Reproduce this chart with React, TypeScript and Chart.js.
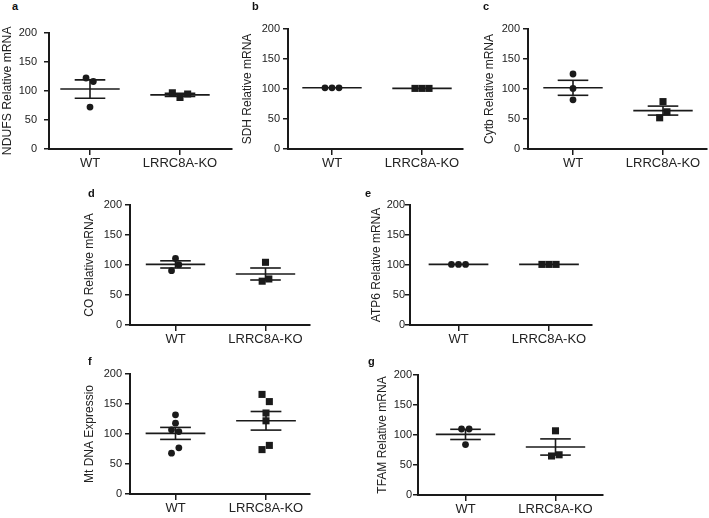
import React, { useEffect, useRef } from 'react';
import { Chart, registerables } from 'chart.js';

Chart.register(...registerables);

// ---------- data ----------
const categories = ['WT', 'LRRC8A-KO'];
const yTicks = [0, 50, 100, 150, 200];
const panelLetters = ['a', 'b', 'c', 'd', 'e', 'f', 'g'];
const yTitles = [
  'NDUFS Relative mRNA',
  'SDH Relative mRNA',
  'Cytb Relative mRNA',
  'CO Relative mRNA',
  'ATP6 Relative mRNA',
  'Mt DNA Expressio',
  'TFAM Relative mRNA',
];

const wtValues = [
  [122, 116, 72],
  [102, 102, 102],
  [125, 101, 82],
  [111, 100.5, 90.5],
  [101, 101, 101],
  [132, 118, 107, 104, 77, 68],
  [110, 110, 84],
];
const wtJitter = [
  [-0.044, 0.037, 0],
  [-0.078, 0, 0.078],
  [0, 0, 0],
  [0, 0.037, -0.044],
  [-0.078, 0, 0.078],
  [0, 0, -0.044, 0.037, 0.037, -0.044],
  [-0.044, 0.04, 0],
];
const koValues = [
  [96.5, 88.5, 94.5],
  [101, 101, 101],
  [79, 62, 52],
  [104.5, 76.7, 73],
  [101, 101, 101],
  [166, 154, 135, 122, 81, 74],
  [107, 65, 67],
];
const koJitter = [
  [-0.085, 0, 0.085],
  [-0.078, 0, 0.078],
  [0, 0.044, -0.037],
  [0, 0.037, -0.037],
  [-0.078, 0, 0.078],
  [-0.044, 0.037, 0, 0, 0.037, -0.044],
  [0, -0.044, 0.04],
];
const wtMean = [103, 102, 102, 101, 101, 101, 101];
const wtSem = [15.8, 0.3, 12.5, 6, 0.3, 10, 8.5];
const koMean = [93, 101, 64, 85, 101, 122, 80];
const koSem = [2.5, 0.3, 7.5, 10, 0.3, 15.5, 13.5];

// ---------- layout (pixel geometry of each panel) ----------
const layouts = [
  { ax: 49, top: 29, bottom: 149, wt: 90, ko: 180, right: 232, titleOff: 41, titleSize: 12.2, tickPad: 7, lx: 12, ly: 0 },
  { ax: 288, top: 29, bottom: 149, wt: 332, ko: 422, right: 463, titleOff: 40, titleSize: 12, tickPad: 3, lx: 252, ly: 0 },
  { ax: 528, top: 29, bottom: 149, wt: 573, ko: 663, right: 707, titleOff: 38, titleSize: 12, tickPad: 3, lx: 483, ly: 0 },
  { ax: 130, top: 205, bottom: 325, wt: 175.5, ko: 265.5, right: 310, titleOff: 40, titleSize: 12, tickPad: 3, lx: 88, ly: 187 },
  { ax: 410, top: 205, bottom: 325, wt: 458.5, ko: 549, right: 592, titleOff: 33, titleSize: 12, tickPad: 0, lx: 365, ly: 187 },
  { ax: 130, top: 374, bottom: 494, wt: 175.5, ko: 266, right: 310, titleOff: 40, titleSize: 12, tickPad: 3, lx: 88, ly: 355 },
  { ax: 418, top: 375, bottom: 495, wt: 465.5, ko: 555.5, right: 603, titleOff: 35, titleSize: 12, tickPad: 1, lx: 368, ly: 355 },
];

const FONT = "'Liberation Sans', Arial, Helvetica, sans-serif";
const INK = '#1a1a1a';
const TEXT = '#222';
const YW = 50;
const PT = 10;
const XH = 40;
const PR = 8;
const MEAN_HALF = 0.33;
const CAP_HALF = 0.17;

Chart.defaults.font.family = FONT;

function seg(x1: number, y1: number, x2: number, y2: number, w: number) {
  return {
    data: [
      { x: x1, y: y1 },
      { x: x2, y: y2 },
    ],
    showLine: true,
    borderColor: INK,
    borderWidth: w,
    pointRadius: 0,
    pointHoverRadius: 0,
    fill: false,
  };
}

function Panel({ i }: { i: number }) {
  const ref = useRef<HTMLCanvasElement>(null);
  const L = layouts[i];
  const width = L.right - L.ax + YW + PR;
  const height = L.bottom - L.top + PT + XH;

  useEffect(() => {
    const span = L.ko - L.wt;
    const xmin = 1 - (L.wt - L.ax) / span;
    const xmax = 2 + (L.right - L.ko) / span;

    const wtPts = wtValues[i].map((v, k) => ({ x: 1 + wtJitter[i][k], y: v }));
    const koPts = koValues[i].map((v, k) => ({ x: 2 + koJitter[i][k], y: v }));

    const lines: any[] = [];
    [
      [1, wtMean[i], wtSem[i]],
      [2, koMean[i], koSem[i]],
    ].forEach(([g, m, s]) => {
      lines.push(seg(g - MEAN_HALF, m, g + MEAN_HALF, m, 1.6));
      if (s > 1) {
        lines.push(seg(g - CAP_HALF, m + s, g + CAP_HALF, m + s, 1.6));
        lines.push(seg(g - CAP_HALF, m - s, g + CAP_HALF, m - s, 1.6));
        lines.push(seg(g, m - s, g, m + s, 1.6));
      }
    });

    const titleHalf = (L.titleSize * 1.2) / 2;

    const chart = new Chart(ref.current as HTMLCanvasElement, {
      type: 'scatter',
      data: {
        datasets: [
          {
            data: wtPts,
            pointStyle: 'circle',
            pointRadius: 3.4,
            backgroundColor: INK,
            borderColor: INK,
            borderWidth: 0,
          },
          {
            data: koPts,
            pointStyle: 'rect',
            pointRadius: 5,
            backgroundColor: INK,
            borderColor: INK,
            borderWidth: 0,
          },
          ...lines,
        ] as any,
      },
      options: {
        animation: false,
        responsive: false,
        devicePixelRatio: 1,
        events: [],
        layout: { padding: { top: PT, left: 0, right: PR, bottom: 0 } },
        plugins: { legend: { display: false }, tooltip: { enabled: false }, title: { display: false } },
        scales: {
          x: {
            type: 'linear',
            min: xmin,
            max: xmax,
            afterBuildTicks: (s: any) => {
              s.ticks = categories.map((_, k) => ({ value: k + 1 }));
            },
            afterFit: (s: any) => {
              s.height = XH;
            },
            ticks: {
              callback: (_v: any, idx: number) => categories[idx],
              font: { size: 13, family: FONT },
              color: TEXT,
              padding: 1,
              autoSkip: false,
              maxRotation: 0,
            },
            grid: { drawOnChartArea: false, drawTicks: true, tickLength: 6, color: INK, lineWidth: 1.5 },
            border: { display: true, color: INK, width: 2 },
          },
          y: {
            type: 'linear',
            min: 0,
            max: 200,
            afterBuildTicks: (s: any) => {
              s.ticks = yTicks.map((v) => ({ value: v }));
            },
            afterFit: (s: any) => {
              s.width = YW;
            },
            ticks: { font: { size: 11, family: FONT }, color: TEXT, padding: L.tickPad },
            grid: { drawOnChartArea: false, drawTicks: true, tickLength: 5, color: INK, lineWidth: 1.5 },
            border: { display: true, color: INK, width: 2 },
            title: {
              display: true,
              text: yTitles[i],
              font: { size: L.titleSize, family: FONT },
              color: TEXT,
              padding: { top: Math.max(0, YW - L.titleOff - titleHalf), bottom: 0 },
            },
          },
        },
      } as any,
    });
    return () => chart.destroy();
  }, []);

  return (
    <>
      <canvas
        ref={ref}
        width={width}
        height={height}
        style={{ position: 'absolute', left: L.ax - YW, top: L.top - PT, width, height }}
      />
      <div
        style={{
          position: 'absolute',
          left: L.lx,
          top: L.ly,
          font: `bold 11px ${FONT}`,
          lineHeight: '12px',
          color: '#111',
        }}
      >
        {panelLetters[i]}
      </div>
    </>
  );
}

export default function App() {
  return (
    <div
      style={{
        position: 'fixed',
        left: 0,
        top: 0,
        width: 709,
        height: 518,
        background: '#fff',
        overflow: 'hidden',
      }}
    >
      {layouts.map((_, i) => (
        <Panel key={i} i={i} />
      ))}
    </div>
  );
}
